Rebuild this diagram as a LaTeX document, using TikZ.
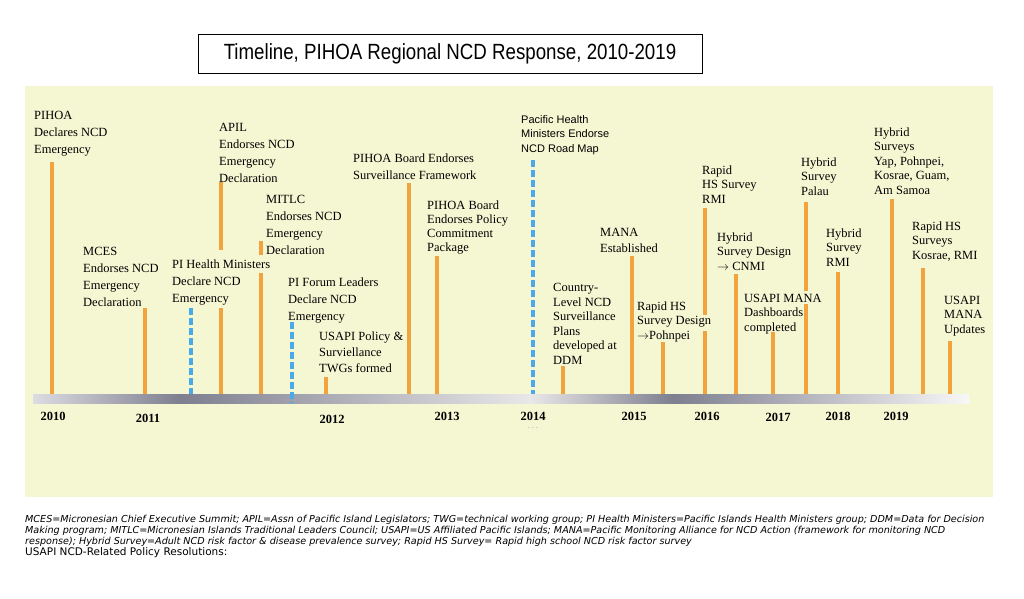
\documentclass[tikz,border=0pt]{standalone}
\usepackage{fontspec}
\setmainfont{Liberation Serif}
\newfontfamily\titlefont[FakeStretch=0.85]{Liberation Sans}
\newfontfamily\pacfont{Liberation Sans}
\newfontfamily\notefont{DejaVu Sans}
\usetikzlibrary{calc}

\definecolor{panel}{HTML}{F5F7D3}
\definecolor{evtorange}{HTML}{F2A33E}
\definecolor{evtblue}{HTML}{4AA9EA}
\definecolor{axlight}{HTML}{DCDCE2}
\definecolor{axdark}{HTML}{7E7F8F}
\definecolor{axpale}{HTML}{E8E8E8}
\definecolor{axwhite}{HTML}{F8F8F8}
\pgfdeclarehorizontalshading{timeline}{100bp}{color(0bp)=(axlight); color(25bp)=(axlight); color(32.85bp)=(axdark); color(51.55bp)=(axpale); color(59.2bp)=(axdark); color(75bp)=(axwhite); color(100bp)=(axwhite)}

\begin{document}
\begin{tikzpicture}[
  x=1pt, y=-1pt,
  mybar/.style={line width=3.5pt, evtorange},
  mydash/.style={line width=3.5pt, evtblue, dash pattern=on 7pt off 3pt},
  myyear/.style={font=\bfseries\fontsize{12.5}{14}\selectfont, inner sep=0},
  mywide/.style={font=\fontsize{12.5}{16.7}\selectfont}
]
\useasboundingbox (0,0) rectangle (1024,598);

% title box and pale panel
\node [draw, line width=0.8pt, fill=white, minimum width=504pt, minimum height=39pt,
  font=\titlefont\fontsize{22}{26}\selectfont] (title) at (450,53.5)
  {Timeline, PIHOA Regional NCD Response, 2010-2019};
\fill [panel] (25,86) rectangle (993,497);

% time axis
\node [shade, shading=timeline, minimum width=936pt, minimum height=9pt, inner sep=0] (axis) at (501,398.5) {};

% years
\node [myyear] (y2010) at (53,416.7) {2010};
\node [myyear] (y2011) at (148,418.3) {2011};
\node [myyear] (y2012) at (332,419) {2012};
\node [myyear] (y2013) at (447,416.7) {2013};
\node [myyear] (y2014) at (533,416.7) {2014};
\node [myyear] (y2015) at (634,416.7) {2015};
\node [myyear] (y2016) at (707,416.7) {2016};
\node [myyear] (y2017) at (778,417.3) {2017};
\node [myyear] (y2018) at (838,416.7) {2018};
\node [myyear] (y2019) at (896,416.7) {2019};
\node [text=gray, font=\scriptsize, inner sep=0] (dots) at (533,428) {.\,\,.\,\,.};

% bar tops
\coordinate (pihoa top) at (52,162);
\coordinate (mces top) at (145,308);
\coordinate (hm top) at (191,308);
\coordinate (apil top) at (221,182);
\coordinate (mitlc top) at (261,241);
\coordinate (forum top) at (292,322);
\coordinate (policy top) at (326,377);
\coordinate (frame top) at (409,183);
\coordinate (package top) at (437,256);
\coordinate (roadmap top) at (533,160);
\coordinate (country top) at (563,366);
\coordinate (mana top) at (632,256);
\coordinate (pohnpei top) at (663,342);
\coordinate (rmihs top) at (705,208);
\coordinate (cnmi top) at (736,274);
\coordinate (dashb top) at (773,332);
\coordinate (palau top) at (806,202);
\coordinate (rmihyb top) at (838,272);
\coordinate (yap top) at (892,199);
\coordinate (kosrae top) at (923,268);
\coordinate (updates top) at (950,341);

% bars down to the axis
\draw [mybar] (pihoa top) -- (pihoa top |- axis.north);
\draw [mybar] (mces top) -- (mces top |- axis.north);
\draw [mydash] (hm top) -- (hm top |- axis.north);
\draw [mybar] (apil top) -- ++(0,68) ++(0,58) -- (apil top |- axis.north);
\draw [mybar] (mitlc top) -- ++(0,14) ++(0,18) -- (mitlc top |- axis.north);
\draw [mydash] (forum top) -- (forum top |- axis.south);
\draw [mybar] (policy top) -- (policy top |- axis.north);
\draw [mybar] (frame top) -- (frame top |- axis.north);
\draw [mybar] (package top) -- (package top |- axis.north);
\draw [mydash] (roadmap top) -- (roadmap top |- axis.north);
\draw [mybar] (country top) -- (country top |- axis.north);
\draw [mybar] (mana top) -- (mana top |- axis.north);
\draw [mybar] (pohnpei top) -- (pohnpei top |- axis.north);
\draw [mybar] (rmihs top) -- ++(0,107) ++(0,16) -- (rmihs top |- axis.north);
\draw [mybar] (cnmi top) -- (cnmi top |- axis.north);
\draw [mybar] (dashb top) -- (dashb top |- axis.north);
\draw [mybar] (palau top) -- ++(0,89) ++(0,13) -- (palau top |- axis.north);
\draw [mybar] (rmihyb top) -- (rmihyb top |- axis.north);
\draw [mybar] (yap top) -- (yap top |- axis.north);
\draw [mybar] (kosrae top) -- (kosrae top |- axis.north);
\draw [mybar] (updates top) -- (updates top |- axis.north);

% event labels (placed by the baseline of their last line)
\begin{scope}[
  every node/.append style={
    anchor=base west,
    align=left,
    inner sep=0,
    font=\fontsize{12.5}{14.5}\selectfont
}]
  \node [mywide] (pihoa) at (34,153) {PIHOA\\Declares NCD\\Emergency};
  \node [mywide] (mces) at (83,306) {MCES\\Endorses NCD\\Emergency\\Declaration};
  \node [mywide] (hm) at (172,302) {PI Health Ministers\\Declare NCD\\Emergency};
  \node [mywide] (apil) at (219,182) {APIL\\Endorses NCD\\Emergency\\Declaration};
  \node [mywide] (mitlc) at (266,254) {MITLC\\Endorses NCD\\Emergency\\Declaration};
  \node [mywide] (forum) at (288,320) {PI Forum Leaders\\Declare NCD\\Emergency};
  \node [font=\fontsize{12.5}{16}\selectfont] (policy) at (319,372) {USAPI Policy \&\\Surviellance\\TWGs formed};
  \node [mywide] (frame) at (353,179) {PIHOA Board Endorses\\Surveillance Framework};
  \node [font=\fontsize{12.5}{14}\selectfont] (package) at (427,251) {PIHOA Board\\Endorses Policy\\Commitment\\Package};
  \node [font=\pacfont\fontsize{11}{14.5}\selectfont] (roadmap) at (521,152) {Pacific Health\\Ministers Endorse\\NCD Road Map};
  \node (country) at (553,364) {Country-\\Level NCD\\Surveillance\\Plans\\developed at\\DDM};
  \node [font=\fontsize{12.5}{16}\selectfont] (mana) at (600,252) {MANA\\Established};
  \node (pohnpei) at (637,339) {Rapid HS\\Survey Design\\$\rightarrow$Pohnpei};
  \node (rmihs) at (702,203) {Rapid\\HS Survey\\RMI};
  \node (cnmi) at (717,270) {Hybrid\\Survey Design\\$\rightarrow$ CNMI};
  \node (dashb) at (744,331) {USAPI MANA\\Dashboards\\completed};
  \node (palau) at (801,195) {Hybrid\\Survey\\Palau};
  \node (rmihyb) at (826,266) {Hybrid\\Survey\\RMI};
  \node (yap) at (874,194) {Hybrid\\Surveys\\Yap, Pohnpei,\\Kosrae, Guam,\\Am Samoa};
  \node (kosrae) at (912,259) {Rapid HS\\Surveys\\Kosrae, RMI};
  \node (updates) at (944,333) {USAPI\\MANA\\Updates};
\end{scope}

% abbreviations
\node [anchor=base west, align=left, inner sep=0, font=\notefont\itshape\fontsize{9.6}{11}\selectfont] (note) at (25,544)
  {MCES=Micronesian Chief Executive Summit; APIL=Assn of Pacific Island Legislators; TWG=technical working group; PI Health Ministers=Pacific Islands Health Ministers group; DDM=Data for Decision\\
   Making program; MITLC=Micronesian Islands Traditional Leaders Council; USAPI=US Affiliated Pacific Islands; MANA=Pacific Monitoring Alliance for NCD Action (framework for monitoring NCD\\
   response); Hybrid Survey=Adult NCD risk factor \& disease prevalence survey; Rapid HS Survey= Rapid high school NCD risk factor survey};
\node [anchor=base west, inner sep=0, font=\notefont\fontsize{10.5}{12}\selectfont] (resol) at (25,555.5)
  {USAPI NCD-Related Policy Resolutions:};

\end{tikzpicture}
\end{document}
